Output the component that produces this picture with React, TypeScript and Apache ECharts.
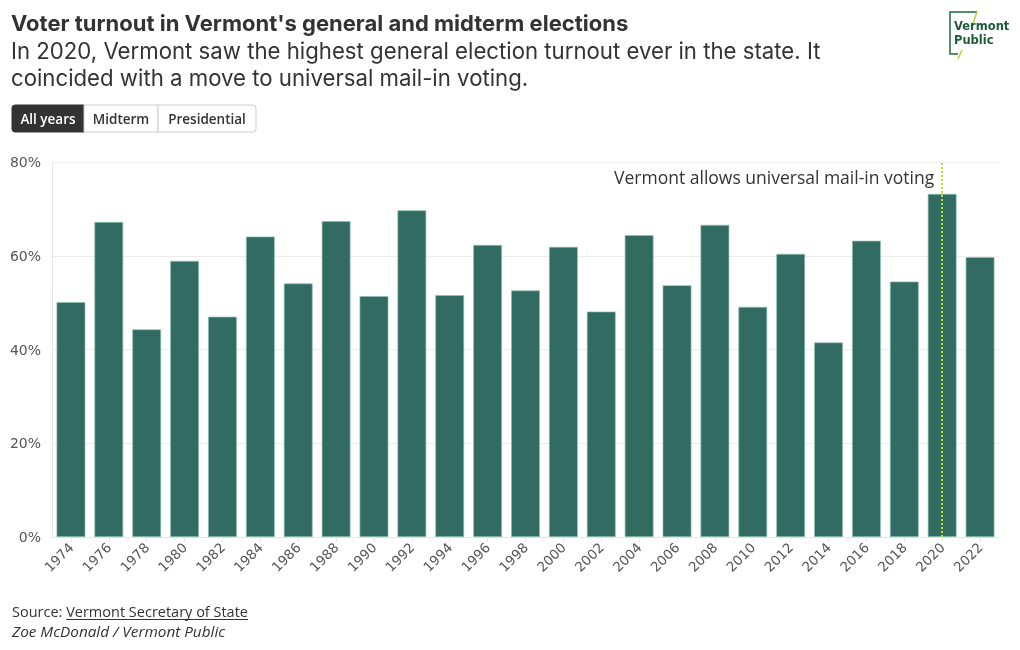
import React, { useEffect, useRef } from "react";
import * as echarts from "echarts";

const years = ["1974","1976","1978","1980","1982","1984","1986","1988","1990","1992","1994","1996","1998","2000","2002","2004","2006","2008","2010","2012","2014","2016","2018","2020","2022"];
const turnout = [50.1, 67.2, 44.3, 58.9, 47.0, 64.1, 54.1, 67.4, 51.4, 69.7, 51.6, 62.3, 52.6, 61.9, 48.1, 64.4, 53.7, 66.6, 49.1, 60.4, 41.5, 63.2, 54.5, 73.2, 59.7];
const yTicks = { min: 0, max: 80, interval: 20 };
const annotationYear = "2020";
const annotationText = "Vermont allows universal mail-in voting";
const titleText = "Voter turnout in Vermont's general and midterm elections";
const subtitleLines = [
  "In 2020, Vermont saw the highest general election turnout ever in the state. It",
  "coincided with a move to universal mail-in voting.",
];
const buttons = ["All years", "Midterm", "Presidential"];
const sourceLabel = "Source: ";
const sourceName = "Vermont Secretary of State";
const credit = "Zoe McDonald / Vermont Public";

const FONT = "'Open Sans', 'Noto Sans', sans-serif";
const HFONT = "Inter, 'Open Sans', sans-serif";
const AXFONT = "'DejaVu Sans', sans-serif";

function measure(text: string, font: string): number {
  const c = document.createElement("canvas").getContext("2d");
  if (!c) return text.length * 7;
  c.font = font;
  return c.measureText(text).width;
}

export default function App() {
  const ref = useRef<HTMLDivElement>(null);
  useEffect(() => {
    if (!ref.current) return;
    const chart = echarts.init(ref.current, null, { renderer: "svg" });

    const btnX = [12, 84, 158];
    const btnW = [72, 74, 98];
    const buttonGraphics: any[] = [];
    buttons.forEach((b, i) => {
      buttonGraphics.push({
        type: "rect",
        shape: { x: btnX[i], y: 105, width: btnW[i], height: 27, r: i === 0 ? [3, 0, 0, 3] : i === buttons.length - 1 ? [0, 3, 3, 0] : 0 },
        style: { fill: i === 0 ? "#333333" : "#ffffff", stroke: i === 0 ? "#333333" : "#cccccc", lineWidth: 1 },
      });
      buttonGraphics.push({
        type: "text",
        x: btnX[i] + btnW[i] / 2,
        y: 118.5,
        style: {
          text: b,
          fill: i === 0 ? "#ffffff" : "#333333",
          font: `600 13.5px ${FONT}`,
          align: "center",
          verticalAlign: "middle",
        },
      });
    });

    const footFont = `14.5px ${FONT}`;
    const srcW = measure(sourceLabel, footFont);
    const nameW = measure(sourceName, footFont);
    const titleFont = `bold 22px ${HFONT}`;
    const subFont = `22.2px ${HFONT}`;

    const baseGraphics: any[] = [
      { type: "text", x: 11, y: 22.5, style: { text: titleText, fill: "#333333", font: titleFont, verticalAlign: "middle" } },
      { type: "text", x: 11, y: 50, style: { text: subtitleLines[0], fill: "#333333", font: subFont, verticalAlign: "middle" } },
      { type: "text", x: 11, y: 77, style: { text: subtitleLines[1], fill: "#333333", font: subFont, verticalAlign: "middle" } },
      ...buttonGraphics,
      // logo
      { type: "polyline", shape: { points: [[977, 12], [950, 12], [950, 54], [958, 54]] }, style: { stroke: "#1d6b45", lineWidth: 1.5, fill: null } },
      { type: "polyline", shape: { points: [[977, 12], [972, 26]] }, style: { stroke: "#b5d334", lineWidth: 1.5, fill: null } },
      { type: "polyline", shape: { points: [[962, 50], [958, 59]] }, style: { stroke: "#b5d334", lineWidth: 1.5, fill: null } },
      { type: "text", x: 954, y: 26, style: { text: "Vermont", fill: "#1a5c3a", font: `bold 11.5px ${AXFONT}`, verticalAlign: "middle" } },
      { type: "text", x: 954, y: 40, style: { text: "Public", fill: "#1a5c3a", font: `bold 11.5px ${AXFONT}`, verticalAlign: "middle" } },
      // footer
      { type: "text", x: 12, y: 611, style: { text: sourceLabel, fill: "#333333", font: footFont, verticalAlign: "middle" } },
      { type: "text", x: 12 + srcW, y: 611, style: { text: sourceName, fill: "#333333", font: footFont, verticalAlign: "middle" } },
      { type: "line", shape: { x1: 12 + srcW, y1: 619.5, x2: 12 + srcW + nameW, y2: 619.5 }, style: { stroke: "#333333", lineWidth: 1 } },
      { type: "text", x: 12, y: 631, style: { text: credit, fill: "#333333", font: `italic 15.3px ${FONT}`, verticalAlign: "middle" } },
    ];

    chart.setOption({
      animation: false,
      grid: { left: 52, right: 21, top: 162, bottom: 113, containLabel: false },
      xAxis: {
        type: "category",
        data: years,
        axisLine: { show: true, lineStyle: { color: "#e6e6e6" } },
        axisTick: { show: true, alignWithLabel: true, lineStyle: { color: "#e6e6e6" } },
        axisLabel: { rotate: 45, color: "#555555", fontSize: 13.5, fontFamily: AXFONT, margin: 8 },
      },
      yAxis: {
        type: "value",
        min: yTicks.min,
        max: yTicks.max,
        interval: yTicks.interval,
        axisLine: { show: true, lineStyle: { color: "#e6e6e6" } },
        axisTick: { show: false },
        splitLine: { lineStyle: { color: "#ececec" } },
        axisLabel: { formatter: "{value}%", color: "#555555", fontSize: 14, fontFamily: AXFONT, margin: 11 },
      },
      series: [
        {
          type: "bar",
          data: turnout,
          barCategoryGap: "24%",
          itemStyle: { color: "#316b61", borderColor: "#8fc1b6", borderWidth: 0.7 },
          markLine: {
            silent: true,
            symbol: "none",
            label: { show: false },
            lineStyle: { type: "dotted", color: "#bde21a", width: 2 },
            data: [{ xAxis: annotationYear }],
          },
        },
      ],
      graphic: baseGraphics,
    });

    const px = chart.convertToPixel({ xAxisIndex: 0 }, annotationYear) as number;
    chart.setOption({
      graphic: [
        ...baseGraphics,
        {
          type: "text",
          x: px - 8,
          y: 177,
          style: { text: annotationText, fill: "#333333", font: `17.5px ${FONT}`, align: "right", verticalAlign: "middle" },
        },
      ],
    }, { replaceMerge: ["graphic"] });

    return () => chart.dispose();
  }, []);
  return <div ref={ref} style={{ position: "fixed", left: 0, top: 0, width: 1020, height: 650 }} />;
}
